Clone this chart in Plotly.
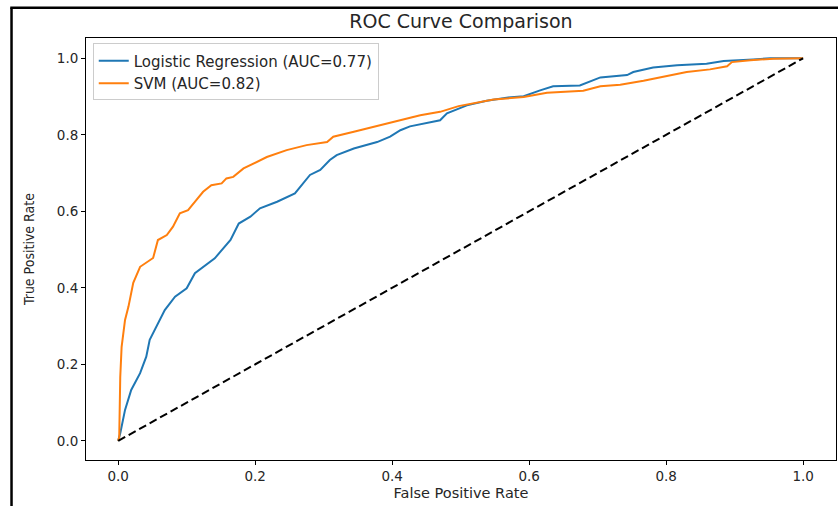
import plotly.graph_objects as go

# Logistic Regression ROC curve
lr_fpr = [0.0, 0.003, 0.010, 0.019, 0.032, 0.041, 0.046, 0.058, 0.068, 0.083, 0.100, 0.112,
          0.131, 0.141, 0.149, 0.164, 0.176, 0.193, 0.207, 0.232, 0.258, 0.266, 0.280, 0.295,
          0.309, 0.319, 0.344, 0.378, 0.397, 0.412, 0.426, 0.470, 0.480, 0.509, 0.538, 0.567,
          0.592, 0.616, 0.635, 0.674, 0.704, 0.743, 0.752, 0.781, 0.816, 0.859, 0.884, 0.927,
          0.952, 1.0]
lr_tpr = [0.0, 0.020, 0.081, 0.133, 0.177, 0.220, 0.264, 0.307, 0.342, 0.377, 0.399, 0.438,
          0.464, 0.477, 0.494, 0.525, 0.568, 0.586, 0.608, 0.625, 0.647, 0.664, 0.695, 0.708,
          0.734, 0.747, 0.764, 0.781, 0.795, 0.812, 0.822, 0.838, 0.856, 0.877, 0.889, 0.897,
          0.901, 0.916, 0.927, 0.929, 0.950, 0.956, 0.964, 0.976, 0.982, 0.986, 0.993, 0.997,
          1.0, 1.0]

# SVM ROC curve
svm_fpr = [0.0, 0.0015, 0.003, 0.005, 0.010, 0.015, 0.022, 0.032, 0.051, 0.058, 0.071, 0.080,
           0.090, 0.102, 0.114, 0.124, 0.136, 0.151, 0.158, 0.168, 0.183, 0.198, 0.217, 0.246,
           0.275, 0.305, 0.314, 0.344, 0.373, 0.402, 0.421, 0.441, 0.470, 0.497, 0.548, 0.592,
           0.626, 0.679, 0.704, 0.733, 0.767, 0.801, 0.830, 0.864, 0.889, 0.896, 0.923, 0.957,
           1.0]
svm_tpr = [0.0, 0.010, 0.167, 0.246, 0.316, 0.351, 0.413, 0.455, 0.478, 0.525, 0.538, 0.560,
           0.595, 0.603, 0.629, 0.651, 0.668, 0.673, 0.686, 0.690, 0.712, 0.725, 0.742, 0.760,
           0.773, 0.781, 0.795, 0.808, 0.821, 0.834, 0.843, 0.851, 0.860, 0.875, 0.892, 0.899,
           0.910, 0.915, 0.927, 0.931, 0.941, 0.953, 0.964, 0.971, 0.979, 0.990, 0.995, 0.999,
           1.0]

diag = [0.0, 1.0]
ticks = [0.0, 0.2, 0.4, 0.6, 0.8, 1.0]
tick_text = ["0.0", "0.2", "0.4", "0.6", "0.8", "1.0"]

FONT = "DejaVu Sans"
TXT = "#262626"

fig = go.Figure()
fig.add_trace(go.Scatter(x=lr_fpr, y=lr_tpr, mode="lines",
                         name="Logistic Regression (AUC=0.77)",
                         line=dict(color="#1f77b4", width=2)))
fig.add_trace(go.Scatter(x=svm_fpr, y=svm_tpr, mode="lines",
                         name="SVM (AUC=0.82)",
                         line=dict(color="#ff7f0e", width=2)))
fig.add_trace(go.Scatter(x=diag, y=diag, mode="lines", showlegend=False,
                         line=dict(color="black", width=2, dash="8px,4px")))

axis_common = dict(showgrid=False, zeroline=False, showline=True, mirror=True,
                   linecolor="black", linewidth=1, ticks="outside", ticklen=4,
                   tickcolor="black", tickwidth=1, automargin=False,
                   tickfont=dict(family=FONT, size=13.5, color=TXT),
                   tickvals=ticks, ticktext=tick_text)

fig.update_layout(
    width=838, height=506,
    margin=dict(l=86, r=2, t=38, b=46),
    paper_bgcolor="white", plot_bgcolor="white",
    title=dict(text="ROC Curve Comparison", x=0.55, xanchor="center",
               y=0.958, yanchor="middle",
               font=dict(family=FONT, size=19, color=TXT)),
    xaxis=dict(range=[-0.047, 1.048],
               title=dict(text="False Positive Rate", standoff=4,
                          font=dict(family=FONT, size=14.5, color=TXT)),
               **axis_common),
    yaxis=dict(range=[-0.05, 1.053],
               title=dict(text="True Positive Rate", standoff=18,
                          font=dict(family="DejaVu Sans Condensed", size=14, color=TXT)),
               **axis_common),
    legend=dict(x=0.009, y=0.987, xanchor="left", yanchor="top",
                bgcolor="rgba(255,255,255,0.8)", bordercolor="#cccccc", borderwidth=1,
                font=dict(family=FONT, size=15, color=TXT),
                tracegroupgap=0, itemwidth=30),
    showlegend=True,
    shapes=[
        dict(type="line", xref="paper", yref="paper", x0=-0.0993, x1=-0.0993,
             y0=1.0716, y1=-0.12, line=dict(color="black", width=2.5)),
        dict(type="line", xref="paper", yref="paper", x0=-0.101, x1=1.01,
             y0=1.0716, y1=1.0716, line=dict(color="black", width=2.5)),
    ],
)

fig.write_html(
    "out.html",
    config={"displayModeBar": False},
    post_script="document.body.style.margin='0';document.body.style.overflow='hidden';",
)
